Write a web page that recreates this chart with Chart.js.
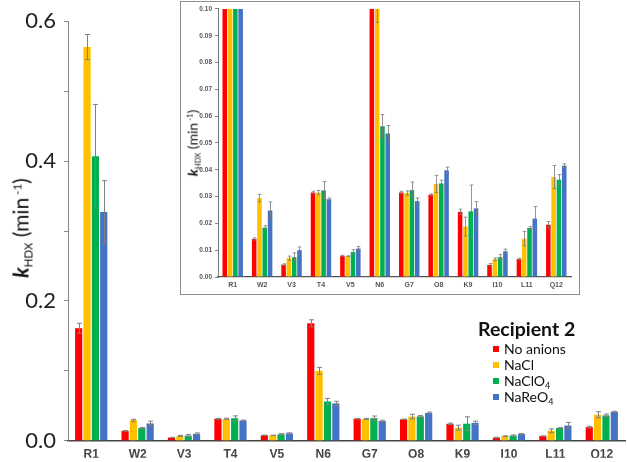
<!DOCTYPE html>
<html>
<head>
<meta charset="utf-8">
<script src="https://cdn.jsdelivr.net/npm/chart.js@4.4.1/dist/chart.umd.min.js"></script>
<style>
  html, body { margin: 0; padding: 0; background: #fff; }
  #wrap { position: relative; width: 627px; height: 462px; overflow: hidden; }
  #main { position: absolute; left: 0; top: 0; }
  #insetBox { position: absolute; left: 180px; top: 1px; width: 398px; height: 292px; border: 1.5px solid #8c8c8c; background: #fff; }
  #inset { position: absolute; left: 0; top: 0; }
  .ytitle { position: absolute; transform: translate(-50%, -50%) rotate(-90deg); white-space: nowrap; color: #111; font-family: Lato, "Open Sans", sans-serif; }
  .ytitle sub { font-size: 0.55em; vertical-align: -0.35em; font-style: normal; }
  .ytitle sup { font-size: 0.55em; vertical-align: 0.6em; }
  #mainTitle { left: 21px; top: 228px; font-size: 21px; }
  #insetTitle { left: 193px; top: 143px; font-size: 14px; }
  #legend { position: absolute; left: 478px; top: 317px; font-family: Lato, "Open Sans", sans-serif; color: #111; }
  #legend .lt { font-size: 19.5px; font-weight: 700; margin-bottom: 1px; }
  #legend .it { position: relative; font-size: 14px; height: 16px; line-height: 16px; padding-left: 26px; }
  #legend .it span.sw { position: absolute; left: 15px; top: 5px; width: 6px; height: 6px; }
  #legend sub { font-size: 0.65em; vertical-align: -0.3em; }
</style>
</head>
<body>
<div id="wrap">
  <canvas id="main" width="627" height="462"></canvas>
  <div class="ytitle" id="mainTitle"><b><i>k</i></b><sub>HDX</sub> (min<sup> -1</sup>)</div>
  <div id="insetBox"><canvas id="inset" width="398" height="292"></canvas></div>
  <div class="ytitle" id="insetTitle"><b><i>k</i></b><sub>HDX</sub> (min<sup> -1</sup>)</div>
  <div id="legend"></div>
</div>
<script>
// ---- data ----
const categories = ['R1','W2','V3','T4','V5','N6','G7','O8','K9','I10','L11','Q12'];
const seriesNames = ['No anions','NaCl','NaClO<sub>4</sub>','NaReO<sub>4</sub>'];
const seriesLabels = ['No anions','NaCl','NaClO4','NaReO4'];
const seriesColors = ['#FF0000','#FFC000','#00B050','#4472C4'];

const noAnions    = [0.161, 0.0142, 0.0046, 0.0315, 0.0079, 0.168, 0.0315, 0.0307, 0.0243, 0.0045, 0.0067, 0.0195];
const noAnionsErr = [0.007, 0.0004, 0.0003, 0.0005, 0.0002, 0.005, 0.0005, 0.0003, 0.0010, 0.0005, 0.0003, 0.0012];
const naCl        = [0.563, 0.0294, 0.0070, 0.0315, 0.0078, 0.100, 0.0313, 0.0347, 0.0188, 0.0066, 0.0143, 0.0373];
const naClErr     = [0.018, 0.0014, 0.0008, 0.0008, 0.0001, 0.005, 0.0008, 0.0032, 0.0035, 0.0005, 0.0027, 0.0043];
const naClO4      = [0.407, 0.0184, 0.0074, 0.0323, 0.0093, 0.0562, 0.0324, 0.0349, 0.0245, 0.0074, 0.0183, 0.0363];
const naClO4Err   = [0.074, 0.0007, 0.0016, 0.0033, 0.0009, 0.0044, 0.0030, 0.0012, 0.0098, 0.0010, 0.0005, 0.0019];
const naReO4      = [0.327, 0.0248, 0.0100, 0.0290, 0.0106, 0.0535, 0.0283, 0.0398, 0.0256, 0.0096, 0.0218, 0.0415];
const naReO4Err   = [0.045, 0.0032, 0.0012, 0.0005, 0.0008, 0.0030, 0.0012, 0.0012, 0.0025, 0.0008, 0.0045, 0.0007];

const mainYTicks = [0, 0.2, 0.4, 0.6];
const values = [noAnions, naCl, naClO4, naReO4];
const errors = [noAnionsErr, naClErr, naClO4Err, naReO4Err];

function makeDatasets(clip) {
  return values.map((v, i) => ({
    label: seriesLabels[i],
    data: v,
    errors: errors[i],
    backgroundColor: seriesColors[i],
    borderWidth: 0,
    categoryPercentage: 0.72,
    barPercentage: 0.86,
    clip: clip
  }));
}

const errorBarPlugin = {
  id: 'errorBars',
  afterDatasetsDraw(chart, args, opts) {
    const ctx = chart.ctx, ys = chart.scales.y, a = chart.chartArea;
    ctx.save();
    ctx.beginPath();
    ctx.rect(a.left, a.top, a.right - a.left, a.bottom - a.top);
    ctx.clip();
    ctx.strokeStyle = opts.color || '#777';
    ctx.lineWidth = opts.width || 1;
    chart.data.datasets.forEach((ds, i) => {
      const meta = chart.getDatasetMeta(i);
      meta.data.forEach((bar, j) => {
        const v = ds.data[j], e = ds.errors[j];
        if (!e) return;
        const t = ys.getPixelForValue(v + e), b = ys.getPixelForValue(v - e);
        const x = Math.round(bar.x) + 0.5, c = opts.cap || 2.5;
        ctx.beginPath();
        ctx.moveTo(x, t); ctx.lineTo(x, b);
        ctx.moveTo(x - c, t); ctx.lineTo(x + c, t);
        ctx.moveTo(x - c, b); ctx.lineTo(x + c, b);
        ctx.stroke();
      });
    });
    ctx.restore();
  }
};

// ---- main chart ----
new Chart(document.getElementById('main'), {
  type: 'bar',
  data: { labels: categories, datasets: makeDatasets(false) },
  plugins: [errorBarPlugin],
  options: {
    responsive: false,
    animation: false,
    layout: { padding: { top: 16, right: 2, left: 0, bottom: 0 } },
    plugins: {
      legend: { display: false },
      tooltip: { enabled: false },
      errorBars: { color: '#808080', width: 1, cap: 2.5 }
    },
    scales: {
      x: {
        grid: { display: false, drawTicks: false },
        border: { display: true, color: '#444', width: 1.5 },
        ticks: { color: '#444', font: { family: 'Liberation Sans, Arial', size: 12, weight: 'bold' }, padding: 7, maxRotation: 0 },
        afterFit(s) { s.height = 17; }
      },
      y: {
        min: 0, max: 0.6,
        grid: { drawOnChartArea: false, drawTicks: true, tickLength: 4, color: '#888' },
        border: { display: true, color: '#888', width: 1 },
        ticks: {
          stepSize: 0.1,
          padding: 8,
          color: '#222',
          font: { family: 'Lato, sans-serif', size: 22, weight: '400' },
          callback(v) {
            const m = mainYTicks.find(t => Math.abs(t - v) < 1e-9);
            return m === undefined ? '' : m.toFixed(1);
          }
        },
        afterFit(s) { s.width = 68; }
      }
    }
  }
});

// ---- inset chart ----
new Chart(document.getElementById('inset'), {
  type: 'bar',
  data: { labels: categories, datasets: makeDatasets(0) },
  plugins: [errorBarPlugin],
  options: {
    responsive: false,
    animation: false,
    layout: { padding: { top: 5, right: 8, left: 0, bottom: 0 } },
    plugins: {
      legend: { display: false },
      tooltip: { enabled: false },
      errorBars: { color: '#7a7a7a', width: 0.8, cap: 1.8 }
    },
    scales: {
      x: {
        grid: { display: false, drawTicks: false },
        border: { display: true, color: '#555', width: 1.2 },
        ticks: { color: '#555', font: { family: 'Liberation Sans, Arial', size: 7, weight: 'bold' }, padding: 4, maxRotation: 0 },
        afterFit(s) { s.height = 17; }
      },
      y: {
        min: 0, max: 0.1,
        grid: { drawOnChartArea: false, drawTicks: true, tickLength: 3, color: '#888' },
        border: { display: true, color: '#777', width: 1 },
        ticks: {
          stepSize: 0.01,
          padding: 3,
          color: '#555',
          font: { family: 'Liberation Sans, Arial', size: 6.5, weight: 'bold' },
          callback(v) { return v.toFixed(2); }
        },
        afterFit(s) { s.width = 37; }
      }
    }
  }
});

// ---- legend ----
const lg = document.getElementById('legend');
let html = '<div class="lt">Recipient 2</div>';
seriesNames.forEach((n, i) => {
  html += '<div class="it"><span class="sw" style="background:' + seriesColors[i] + '"></span>' + n + '</div>';
});
lg.innerHTML = html;
</script>
</body>
</html>
